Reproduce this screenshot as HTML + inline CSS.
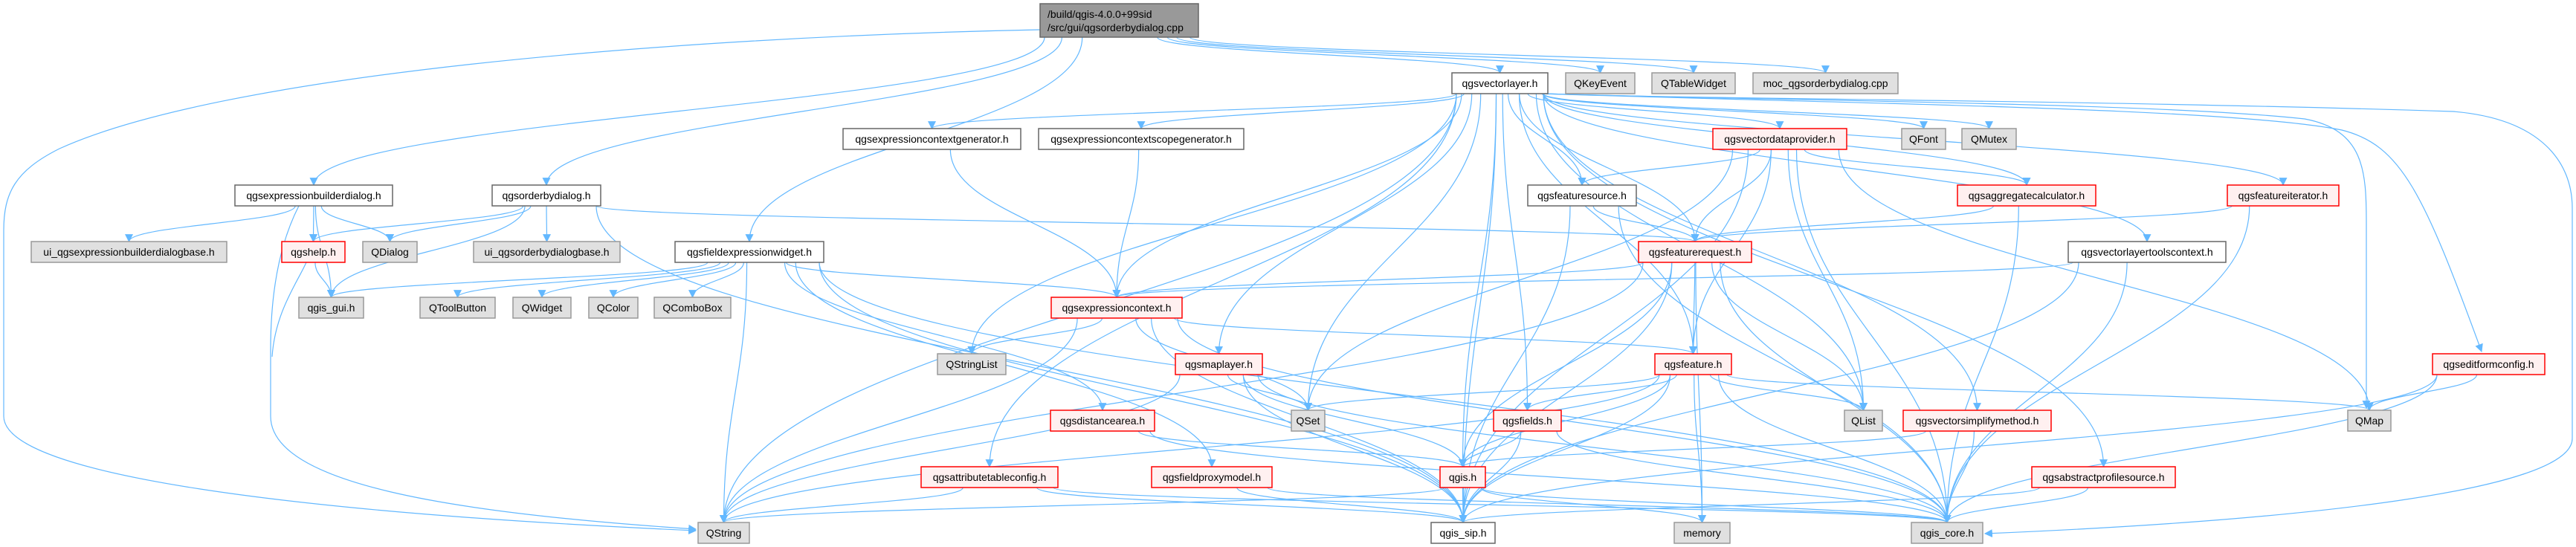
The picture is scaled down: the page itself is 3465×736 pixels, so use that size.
<!DOCTYPE html>
<html><head><meta charset="utf-8"><style>
html,body{margin:0;padding:0;background:#fff;width:3465px;height:736px;overflow:hidden}
svg{display:block}
text{font-family:"Liberation Sans",sans-serif;font-size:14px;fill:#000}
</style></head><body>
<svg id="g" width="3465" height="736" xmlns="http://www.w3.org/2000/svg">
<defs><marker id="a" viewBox="0 0 10 10" refX="9" refY="5" markerWidth="11" markerHeight="11" markerUnits="userSpaceOnUse" orient="auto"><path d="M0,0L10,5L0,10z" fill="#63b8ff"/></marker></defs>
<g id="e" fill="none" stroke="#63b8ff" stroke-width="1.2"></g>
<g id="n"></g>
</svg>
<script>
const R=[5,98,173,249,325,400,476,552,628,703];
const N={
root:[1399,1612,-1,'r',''],
ebd:[316,528,3,'w','qgsexpressionbuilderdialog.h'],
obd:[662,808,3,'w','qgsorderbydialog.h'],
uie:[42,305,4,'g','ui_qgsexpressionbuilderdialogbase.h'],
help:[379,464,4,'p','qgshelp.h'],
qdlg:[488,561,4,'g','QDialog'],
uio:[637,834,4,'g','ui_qgsorderbydialogbase.h'],
gui:[402,489,5,'g','qgis_gui.h'],
qtb:[565,666,5,'g','QToolButton'],
qw:[690,768,5,'g','QWidget'],
qc:[792,858,5,'g','QColor'],
qcb:[880,983,5,'g','QComboBox'],
few:[908,1108,4,'w','qgsfieldexpressionwidget.h'],
ecg:[1134,1373,2,'w','qgsexpressioncontextgenerator.h'],
ecsg:[1397,1673,2,'w','qgsexpressioncontextscopegenerator.h'],
ec:[1414,1590,5,'p','qgsexpressioncontext.h'],
qsl:[1261,1353,6,'g','QStringList'],
ml:[1581,1698,6,'p','qgsmaplayer.h'],
da:[1413,1553,7,'p','qgsdistancearea.h'],
atc:[1239,1423,8,'p','qgsattributetableconfig.h'],
fpm:[1549,1711,8,'p','qgsfieldproxymodel.h'],
qs:[939,1008,9,'g','QString'],
vl:[1953,2082,1,'w','qgsvectorlayer.h'],
qke:[2106,2199,1,'g','QKeyEvent'],
qtw:[2222,2334,1,'g','QTableWidget'],
moc:[2358,2553,1,'g','moc_qgsorderbydialog.cpp'],
vdp:[2304,2484,2,'p','qgsvectordataprovider.h'],
qf:[2558,2617,2,'g','QFont'],
qm:[2639,2712,2,'g','QMutex'],
fs:[2055,2201,3,'w','qgsfeaturesource.h'],
agg:[2633,2819,3,'p','qgsaggregatecalculator.h'],
fi:[2996,3146,3,'p','qgsfeatureiterator.h'],
fr:[2204,2356,4,'p','qgsfeaturerequest.h'],
vltc:[2782,2994,4,'w','qgsvectorlayertoolscontext.h'],
feat:[2226,2329,6,'p','qgsfeature.h'],
efc:[3272,3423,6,'p','qgseditformconfig.h'],
qset:[1737,1782,7,'g','QSet'],
flds:[2009,2100,7,'p','qgsfields.h'],
ql:[2481,2532,7,'g','QList'],
vsm:[2560,2759,7,'p','qgsvectorsimplifymethod.h'],
qmap:[3158,3216,7,'g','QMap'],
qgis:[1937,1998,8,'p','qgis.h'],
aps:[2733,2926,8,'p','qgsabstractprofilesource.h'],
sip:[1925,2011,9,'w','qgis_sip.h'],
mem:[2252,2327,9,'g','memory'],
core:[2571,2667,9,'g','qgis_core.h']
};
function box(k){const v=N[k];if(k=='root')return {x1:v[0],x2:v[1],y1:5,y2:50};return {x1:v[0],x2:v[1],y1:R[v[2]],y2:R[v[2]]+28};}
const CUSTOM={
'root>qs':'M1399,40 C900,50 300,100 80,200 C20,230 5,260 5,310 L5,560 C5,640 400,690 936,714',
'ebd>qs':'M402,277 C380,320 364,380 364,470 L364,560 C364,650 600,690 936,712',
'help>qs':'M412,353 C400,380 370,420 366,480',
'vl>core':'M2078,126 C2300,134 2800,134 3300,150 C3420,160 3460,220 3460,280 L3460,590 C3460,660 3100,700 2670,718',
'vl>qmap':'M2075,126 C2400,136 2900,138 3100,160 C3180,175 3183,230 3183,300 L3183,549',
'vl>efc':'M2072,126 C2500,140 3000,145 3150,175 C3230,195 3260,260 3338,473'
};
const E=[
['root','ebd'],['root','obd'],['root','few'],['root','vl'],['root','qke'],['root','qtw'],['root','moc'],['root','qs'],
['ebd','uie'],['ebd','help'],['ebd','qdlg'],['ebd','gui'],['ebd','qs'],
['help','gui'],
['obd','help'],['obd','qdlg'],['obd','uio'],['obd','gui'],['obd','fr'],['obd','sip'],
['few','qtb'],['few','qw'],['few','qc'],['few','qcb'],['few','gui'],['few','ec'],['few','da'],['few','fpm'],['few','qs'],['few','sip'],['few','core'],
['vl','ecg'],['vl','ecsg'],['vl','vdp'],['vl','qf'],['vl','qm'],['vl','fs'],['vl','fr'],['vl','agg'],['vl','fi'],['vl','vltc'],['vl','ec'],['vl','qsl'],['vl','ml'],['vl','feat'],['vl','efc'],['vl','qset'],['vl','flds'],['vl','ql'],['vl','vsm'],['vl','qmap'],['vl','qgis'],['vl','sip'],['vl','core'],['vl','aps'],['vl','qs'],['vl','atc'],
['ecg','ec'],['ecsg','ec'],
['vdp','fs'],['vdp','fr'],['vdp','agg'],['vdp','feat'],['vdp','ql'],['vdp','qmap'],['vdp','qset'],['vdp','sip'],['vdp','core'],
['fs','fr'],['fs','sip'],['fs','core'],
['agg','fr'],['agg','core'],['fi','fr'],['fi','core'],
['vltc','ec'],['vltc','core'],['vltc','sip'],
['fr','ec'],['fr','feat'],['fr','qgis'],['fr','ql'],['fr','mem'],['fr','sip'],['fr','core'],['fr','qs'],
['ec','qsl'],['ec','qset'],['ec','feat'],['ec','qs'],['ec','sip'],['ec','core'],
['ml','qset'],['ml','qgis'],['ml','sip'],['ml','core'],['ml','qs'],
['feat','qset'],['feat','flds'],['feat','ql'],['feat','qmap'],['feat','mem'],['feat','sip'],['feat','core'],['feat','qs'],['feat','qgis'],
['flds','qgis'],['flds','sip'],['flds','core'],
['da','qgis'],['da','core'],
['atc','qs'],['atc','sip'],['atc','core'],
['fpm','sip'],['fpm','core'],
['qgis','qs'],['qgis','sip'],['qgis','mem'],['qgis','core'],
['vsm','qgis'],['vsm','core'],
['aps','sip'],['aps','core'],
['efc','qmap'],['efc','sip'],['efc','core']
];
const eg=document.getElementById('e'),ng=document.getElementById('n'),S='http://www.w3.org/2000/svg';
function el(t,a,p){const e=document.createElementNS(S,t);for(const k in a)e.setAttribute(k,a[k]);p.appendChild(e);return e;}
el('path',{d:CUSTOM['help>qs']},eg);
for(const [s,t] of E){
 const A=box(s),B=box(t);
 const sx=(A.x1+A.x2)/2, tx=(B.x1+B.x2)/2;
 let d=CUSTOM[s+'>'+t];
 if(!d){
 if(B.y1>A.y2+2){
  const ax=sx+Math.max(-(A.x2-A.x1)/2+6,Math.min((A.x2-A.x1)/2-6,(tx-sx)*0.1));
  const sy=A.y2, ty=B.y1, dy=(ty-sy)*0.45;
  d=`M${ax},${sy} C${ax},${sy+dy} ${tx},${ty-dy} ${tx},${ty}`;
 } else {
  const sy=(A.y1+A.y2)/2, ty=(B.y1+B.y2)/2;
  const ax=tx>sx?A.x2:A.x1, bx=tx>sx?B.x1:B.x2;
  d=`M${ax},${sy} L${bx},${ty}`;
 }}
 el('path',{d,'marker-end':'url(#a)'},eg);
}
for(const k in N){
 const v=N[k],b=box(k);
 const st={r:['#999','#666'],w:['#fff','#666'],p:['#fff0f0','#f00'],g:['#e0e0e0','#999']}[v[3]];
 el('rect',{x:b.x1,y:b.y1,width:b.x2-b.x1,height:b.y2-b.y1,fill:st[0],stroke:st[1],'stroke-width':1.5},ng);
 if(k=='root'){
  el('text',{x:b.x1+10,y:24},ng).textContent='/build/qgis-4.0.0+99sid';
  el('text',{x:b.x1+10,y:42},ng).textContent='/src/gui/qgsorderbydialog.cpp';
 } else {
  const t=el('text',{x:(b.x1+b.x2)/2,y:b.y1+19,'text-anchor':'middle'},ng);t.textContent=v[4];
 }
}
</script>
</body></html>
